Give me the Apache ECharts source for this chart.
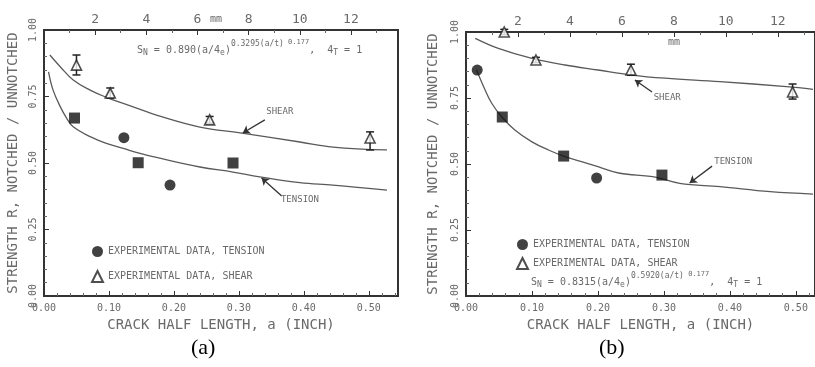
<!DOCTYPE html>
<html><head><meta charset="utf-8">
<script src="https://cdn.jsdelivr.net/npm/echarts@6/dist/echarts.min.js"></script>
<style>html,body{margin:0;padding:0;background:#fff;}#c{width:815px;height:367px;}</style>
</head><body><div id="c"></div>
<script>
// ---------- data (crack half length a in inch, strength ratio) ----------
var xTicksInch = ['0.00','0.10','0.20','0.30','0.40','0.50'];
var yTicks = ['0.00','0.25','0.50','0.75','1.00'];
var mmTicks = ['2','4','6','8','10','12'];

// panel (a)
var shearA_x = [0.050, 0.102, 0.255, 0.502];
var shearA_y = [0.868, 0.763, 0.662, 0.594];
var shearA_lo = [0.831, 0.744, 0.650, 0.549];
var shearA_hi = [0.906, 0.782, 0.675, 0.617];
var tensCircA_x = [0.123, 0.194];
var tensCircA_y = [0.595, 0.417];
var tensSqA_x = [0.047, 0.145, 0.291];
var tensSqA_y = [0.669, 0.501, 0.500];
var shearCurveA_x = [0.009,0.025,0.045,0.071,0.096,0.122,0.148,0.173,0.240,0.302,0.394,0.445,0.528];
var shearCurveA_y = [0.906,0.862,0.812,0.774,0.747,0.724,0.702,0.680,0.635,0.613,0.579,0.560,0.549];
var tensCurveA_x = [0.007,0.014,0.025,0.035,0.045,0.071,0.096,0.122,0.148,0.173,0.240,0.291,0.332,0.394,0.445,0.528];
var tensCurveA_y = [0.843,0.774,0.712,0.668,0.636,0.599,0.574,0.555,0.536,0.521,0.485,0.466,0.448,0.426,0.417,0.398];

// panel (b)
var shearB_x = [0.058, 0.106, 0.250, 0.495];
var shearB_y = [1.000, 0.894, 0.856, 0.773];
var shearB_lo = [0.990, 0.884, 0.836, 0.746];
var shearB_hi = [1.010, 0.904, 0.878, 0.803];
var tensCircB_x = [0.017, 0.198];
var tensCircB_y = [0.856, 0.447];
var tensSqB_x = [0.055, 0.148, 0.297];
var tensSqB_y = [0.678, 0.530, 0.458];
var shearCurveB_x = [0.014,0.049,0.100,0.150,0.200,0.251,0.302,0.385,0.486,0.526];
var shearCurveB_y = [0.976,0.938,0.900,0.875,0.856,0.837,0.825,0.812,0.793,0.783];
var tensCurveB_x = [0.016,0.029,0.039,0.054,0.074,0.100,0.125,0.150,0.175,0.200,0.233,0.283,0.324,0.385,0.461,0.526];
var tensCurveB_y = [0.856,0.780,0.730,0.679,0.629,0.584,0.553,0.528,0.509,0.490,0.465,0.452,0.427,0.414,0.395,0.386];

var legTension = 'EXPERIMENTAL DATA, TENSION';
var legShear = 'EXPERIMENTAL DATA, SHEAR';
var xTitle = 'CRACK HALF LENGTH, a (INCH)';
var yTitle = 'STRENGTH R, NOTCHED / UNNOTCHED';
// formula pieces: [text, level]  level 0 = base, -1 = subscript, 1 = superscript, 2 = super-super
var formulaA = [['S',0],['N',-1],[' = 0.890(a/4',0],['e',-1],[')',0],['0.3295',1],['(a/t)',1],[' 0.177',2],[',  4',0],['T',-1],[' = 1',0]];
var formulaB = [['S',0],['N',-1],[' = 0.8315(a/4',0],['e',-1],[')',0],['0.5920',1],['(a/t)',1],[' 0.177',2],[',  4',0],['T',-1],[' = 1',0]];

// ---------- helpers ----------
function zip(a,b){ return a.map(function(v,i){ return [v,b[i]]; }); }
function zip3(a,b,c){ return a.map(function(v,i){ return [v,b[i],c[i]]; }); }
var MONO = 'DejaVu Sans Mono';
var TXT = '#6a6a6a';
var LINE = '#5a5a5a';
var AX = '#333';

var mctx = document.createElement('canvas').getContext('2d');
function formulaGraphic(x0, yMid, parts){
  var sizes = {'0':10, '-1':8, '1':8, '2':7};
  var dys = {'0':0, '-1':3, '1':-6, '2':-8};
  var x = x0, kids = [];
  parts.forEach(function(p){
    var fs = sizes[p[1]];
    var font = fs + 'px "' + MONO + '"';
    mctx.font = font;
    kids.push({type:'text', x:x, y:yMid + dys[p[1]],
      style:{text:p[0], font:font, fill:TXT, verticalAlign:'middle', align:'left'}});
    x += mctx.measureText(p[0]).width;
  });
  return kids;
}

function bottomAxis(grid, max){
  return {
    type:'value', gridIndex:grid, position:'bottom', min:0, max:max, interval:0.1,
    axisLine:{show:true, onZero:false, lineStyle:{color:AX, width:2}},
    axisTick:{show:true, inside:true, length:5, lineStyle:{color:AX}},
    minorTick:{show:true, splitNumber:5, length:3, lineStyle:{color:'#666'}},
    splitLine:{show:false},
    axisLabel:{show:true, showMaxLabel:false, margin:7, color:TXT, fontFamily:MONO, fontSize:10,
      formatter:function(v){ var i=Math.round(v*10); return xTicksInch[i]||''; }},
    name:xTitle, nameLocation:'middle', nameGap:18,
    nameTextStyle:{color:TXT, fontFamily:MONO, fontSize:14}
  };
}
function topAxis(grid, max){
  return {
    type:'value', gridIndex:grid, position:'top', min:0, max:max, interval:2,
    axisLine:{show:true, onZero:false, lineStyle:{color:AX, width:2}},
    axisTick:{show:true, inside:true, length:5, lineStyle:{color:AX}},
    minorTick:{show:true, splitNumber:2, length:3, lineStyle:{color:'#666'}},
    splitLine:{show:false},
    axisLabel:{show:true, showMaxLabel:false, margin:4, color:TXT, fontFamily:MONO, fontSize:13,
      formatter:function(v){ var i=Math.round(v/2)-1; return i>=0 ? (mmTicks[i]||'') : ''; }}
  };
}
function leftAxis(grid, nameGap){
  return {
    type:'value', gridIndex:grid, min:0, max:1, interval:0.25,
    axisLine:{show:true, onZero:false, lineStyle:{color:AX, width:2}},
    axisTick:{show:true, inside:true, length:5, lineStyle:{color:AX}},
    minorTick:{show:true, splitNumber:5, length:3, lineStyle:{color:'#666'}},
    splitLine:{show:false},
    axisLabel:{show:true, rotate:90, margin:6, color:TXT, fontFamily:MONO, fontSize:10,
      formatter:function(v){ return yTicks[Math.round(v*4)]; }},
    name:yTitle, nameLocation:'middle', nameGap:nameGap, nameRotate:90,
    nameTextStyle:{color:TXT, fontFamily:MONO, fontSize:14}
  };
}

function curve(name, xi, yi, data, ann){
  var s = {name:name, type:'line', xAxisIndex:xi, yAxisIndex:yi, data:data, smooth:0.4,
    symbol:'none', silent:true, lineStyle:{color:LINE, width:1.3}, z:2};
  if (ann){
    s.markLine = {silent:true, symbol:['none','arrow'], symbolSize:7,
      lineStyle:{color:'#333', width:1.3, type:'solid'}, label:{show:false},
      data:[[{coord:ann.from},{coord:ann.to}]]};
    s.markPoint = {silent:true, symbol:'circle', symbolSize:1, itemStyle:{color:'rgba(0,0,0,0)'},
      label:{show:true, formatter:ann.text, color:TXT, fontFamily:MONO, fontSize:9},
      data:[{coord:ann.at}]};
  }
  return s;
}
function triSeries(xi, yi, data){
  return {name:legShear, type:'scatter', xAxisIndex:xi, yAxisIndex:yi, data:data,
    symbol:'triangle', symbolSize:10, z:5,
    itemStyle:{color:'#fff', borderColor:'#222', borderWidth:1.6}};
}
function circSeries(xi, yi, data){
  return {name:legTension, type:'scatter', xAxisIndex:xi, yAxisIndex:yi, data:data,
    symbol:'circle', symbolSize:11, z:5, itemStyle:{color:'#111'}};
}
function sqSeries(name, xi, yi, data){
  return {name:name, type:'scatter', xAxisIndex:xi, yAxisIndex:yi, data:data,
    symbol:'rect', symbolSize:11, z:5, itemStyle:{color:'#111'}};
}
function errSeries(name, xi, yi, data){
  return {name:name, type:'custom', xAxisIndex:xi, yAxisIndex:yi, data:data, z:4,
    encode:{x:0, y:[1,2]},
    renderItem:function(params, api){
      var x=api.value(0), p1=api.coord([x,api.value(1)]), p2=api.coord([x,api.value(2)]), w=4;
      var st={stroke:'#222', lineWidth:1.5};
      return {type:'group', children:[
        {type:'line', shape:{x1:p1[0],y1:p1[1],x2:p2[0],y2:p2[1]}, style:st},
        {type:'line', shape:{x1:p1[0]-w,y1:p1[1],x2:p1[0]+w,y2:p1[1]}, style:st},
        {type:'line', shape:{x1:p2[0]-w,y1:p2[1],x2:p2[0]+w,y2:p2[1]}, style:st}
      ]};
    }};
}

var option = {
  animation:false,
  backgroundColor:'#fff',
  grid:[
    {left:44, top:30, width:354, height:266, show:true, borderColor:AX, borderWidth:2, backgroundColor:'transparent'},
    {left:466, top:32, width:349, height:264, show:true, borderColor:AX, borderWidth:2, backgroundColor:'transparent'}
  ],
  xAxis:[ bottomAxis(0, 0.545), topAxis(0, 13.84), bottomAxis(1, 0.529), topAxis(1, 13.43) ],
  yAxis:[ leftAxis(0, 24), leftAxis(1, 26) ],
  legend:[
    {left:86, top:241, orient:'vertical', itemGap:13, itemWidth:11, itemHeight:11,
     textStyle:{color:TXT, fontFamily:MONO, fontSize:10}, selectedMode:false,
     data:[{name:legTension, icon:'circle'}, {name:legShear, icon:'triangle'}]},
    {left:511, top:234, orient:'vertical', itemGap:7, itemWidth:11, itemHeight:11,
     textStyle:{color:TXT, fontFamily:MONO, fontSize:10}, selectedMode:false,
     data:[{name:legTension, icon:'circle'}, {name:legShear, icon:'triangle'}]}
  ],
  graphic:[
    {type:'group', children: formulaGraphic(137, 50, formulaA)},
    {type:'group', children: formulaGraphic(531, 282, formulaB)},
    {type:'text', left:210, top:14, style:{text:'mm', fill:TXT, font:'10px "DejaVu Sans Mono"'}},
    {type:'text', left:668, top:37, style:{text:'mm', fill:TXT, font:'10px "DejaVu Sans Mono"'}},
    {type:'text', left:191, top:337, style:{text:'(a)', fill:'#000', font:'22px "Liberation Serif"'}},
    {type:'text', left:599, top:337, style:{text:'(b)', fill:'#000', font:'22px "Liberation Serif"'}}
  ],
  series:[
    curve('shearCurveA', 0, 0, zip(shearCurveA_x, shearCurveA_y),
      {from:[0.340,0.662], to:[0.306,0.613], at:[0.363,0.692], text:'SHEAR'}),
    curve('tensCurveA', 0, 0, zip(tensCurveA_x, tensCurveA_y),
      {from:[0.366,0.376], to:[0.335,0.444], at:[0.394,0.362], text:'TENSION'}),
    errSeries('errA', 0, 0, zip3(shearA_x, shearA_lo, shearA_hi)),
    triSeries(0, 0, zip(shearA_x, shearA_y)),
    circSeries(0, 0, zip(tensCircA_x, tensCircA_y)),
    sqSeries('tensSqA', 0, 0, zip(tensSqA_x, tensSqA_y)),

    curve('shearCurveB', 2, 1, zip(shearCurveB_x, shearCurveB_y),
      {from:[0.282,0.773], to:[0.256,0.818], at:[0.305,0.750], text:'SHEAR'}),
    curve('tensCurveB', 2, 1, zip(tensCurveB_x, tensCurveB_y),
      {from:[0.373,0.492], to:[0.339,0.428], at:[0.405,0.508], text:'TENSION'}),
    errSeries('errB', 2, 1, zip3(shearB_x, shearB_lo, shearB_hi)),
    triSeries(2, 1, zip(shearB_x, shearB_y)),
    circSeries(2, 1, zip(tensCircB_x, tensCircB_y)),
    sqSeries('tensSqB', 2, 1, zip(tensSqB_x, tensSqB_y))
  ]
};
var chart = echarts.init(document.getElementById('c'), null, {renderer:'canvas'});
chart.setOption(option);
</script></body></html>
